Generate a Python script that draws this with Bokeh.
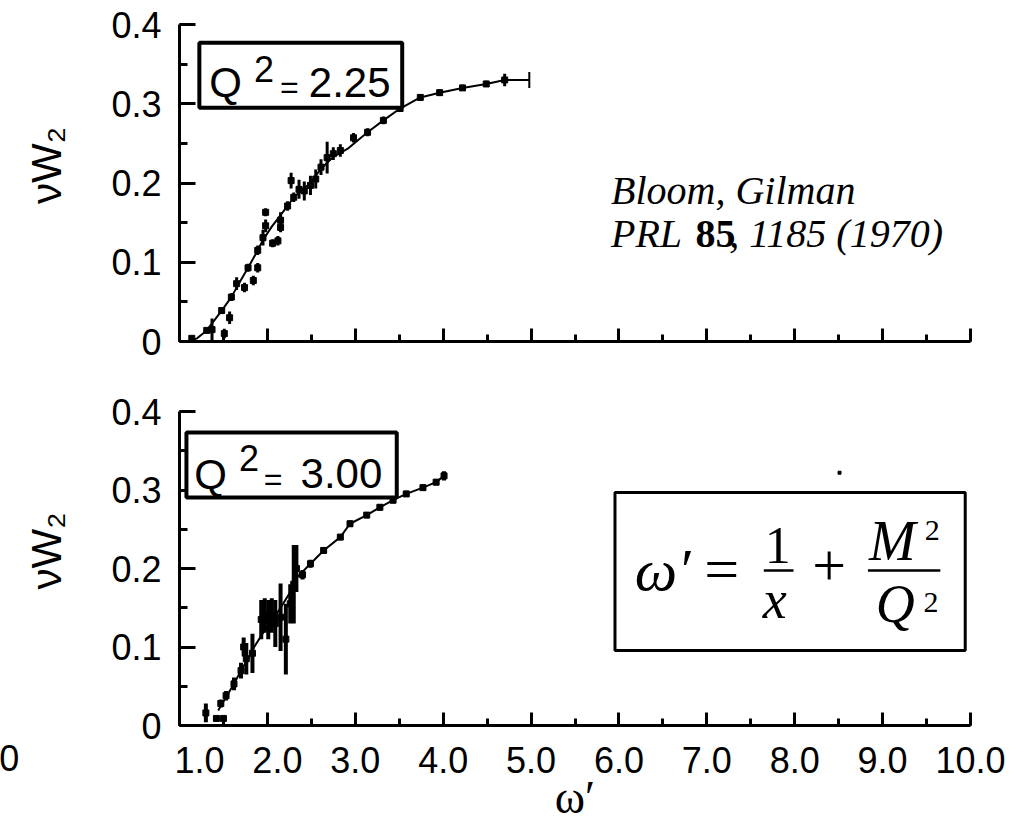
from bokeh.plotting import figure
from bokeh.layouts import column
from bokeh.models import (Range1d, SingleIntervalTicker, NumeralTickFormatter,
                          Label, BoxAnnotation, ColumnDataSource, CustomLabelingPolicy)
from bokeh.embed import file_html
from bokeh.resources import INLINE

# ---------------- data ----------------
# Q^2 = 2.25 : main data track (omega', nuW2, half error)
top_x = [1.14, 1.31, 1.37, 1.48, 1.59, 1.65, 1.78, 1.89, 1.95, 1.98, 1.98, 2.15, 2.23,
         2.27, 2.30, 2.36, 2.42, 2.49, 2.55, 2.61, 2.68, 2.75, 2.83, 2.98, 3.14, 3.32,
         3.51, 3.74, 3.96, 4.22, 4.49, 4.70]
top_y = [0.004, 0.014, 0.015, 0.039, 0.056, 0.073, 0.093, 0.115, 0.131, 0.146, 0.163,
         0.153, 0.171, 0.203, 0.182, 0.192, 0.190, 0.197, 0.205, 0.220, 0.232, 0.237,
         0.241, 0.257, 0.264, 0.279, 0.294, 0.308, 0.314, 0.320, 0.325, 0.330]
top_err = [0.002, 0.003, 0.014, 0.004, 0.005, 0.008, 0.005, 0.006, 0.010, 0.008, 0.005,
           0.010, 0.006, 0.010, 0.006, 0.012, 0.012, 0.012, 0.012, 0.010, 0.020, 0.008,
           0.008, 0.006, 0.005, 0.005, 0.004, 0.004, 0.004, 0.004, 0.004, 0.008]
# Q^2 = 2.25 : second (lower) data track
top_low_x = [1.51, 1.57, 1.74, 1.84, 1.89, 2.06, 2.12, 2.15]
top_low_y = [0.010, 0.030, 0.068, 0.077, 0.093, 0.124, 0.127, 0.144]
top_low_err = [0.006, 0.008, 0.006, 0.006, 0.006, 0.005, 0.006, 0.006]
# Q^2 = 2.25 : curve
top_curve_x = [1.10, 1.20, 1.31, 1.48, 1.59, 1.65, 1.78, 1.89, 1.95, 2.05, 2.23, 2.30,
               2.49, 2.61, 2.75, 2.91, 3.14, 3.32, 3.51, 3.74, 3.96, 4.22, 4.49, 4.70]
top_curve_y = [0.000, 0.004, 0.014, 0.039, 0.056, 0.068, 0.093, 0.115, 0.128, 0.145,
               0.171, 0.182, 0.200, 0.218, 0.233, 0.243, 0.264, 0.279, 0.294, 0.308,
               0.314, 0.320, 0.325, 0.330]
# last point horizontal error bar
top_xbar_x = [4.70]
top_xbar_right = [4.98]
top_xbar_y = [0.330]

# Q^2 = 3.00 : data track
bot_x = [1.30, 1.42, 1.50, 1.47, 1.53, 1.62, 1.70, 1.73, 1.76, 1.83, 1.93, 1.97, 2.01,
         2.05, 2.09, 2.15, 2.21, 2.26, 2.30, 2.33, 2.40, 2.49, 2.64, 2.83, 2.94, 3.13,
         3.28, 3.43, 3.58, 3.77, 3.92, 4.01]
bot_y = [0.016, 0.009, 0.009, 0.028, 0.038, 0.053, 0.070, 0.100, 0.085, 0.092, 0.135,
         0.140, 0.135, 0.140, 0.130, 0.138, 0.110, 0.155, 0.180, 0.200, 0.192, 0.206,
         0.223, 0.240, 0.257, 0.268, 0.278, 0.287, 0.295, 0.303, 0.310, 0.318]
bot_err = [0.012, 0.003, 0.003, 0.005, 0.006, 0.008, 0.010, 0.012, 0.020, 0.025, 0.025,
           0.022, 0.025, 0.022, 0.030, 0.043, 0.045, 0.025, 0.050, 0.030, 0.006, 0.005,
           0.004, 0.004, 0.004, 0.004, 0.004, 0.004, 0.004, 0.004, 0.004, 0.006]
bot_curve_x = [1.44, 1.55, 1.62, 1.70, 1.78, 1.85, 1.95, 2.05, 2.15, 2.25, 2.34, 2.49,
               2.64, 2.83, 2.94, 3.13, 3.28, 3.43, 3.58, 3.77, 3.92, 4.01]
bot_curve_y = [0.019, 0.040, 0.053, 0.070, 0.085, 0.100, 0.118, 0.133, 0.150, 0.168,
               0.189, 0.206, 0.223, 0.240, 0.257, 0.268, 0.278, 0.287, 0.295, 0.303,
               0.310, 0.318]
bot_extra_x = [8.51]
bot_extra_y = [0.322]

x_ticks_interval = 1.0
y_ticks_interval = 0.1
x_label_overrides = {1: "\u00a0\u00a0\u00a0\u00a01.0", 2: "\u00a0\u00a02.0"}
y_axis_title = "\u00a0\u00a0\u00a0νW₂"

SANS = "Liberation Sans"
SERIF = "Liberation Serif"

TOP_PPU = 793.0   # screen px per data unit (y) top panel
BOT_PPU = 785.0   # bottom panel


def make_fig(height, top, bottom, right, xlabels):
    p = figure(width=1034, height=height, output_backend="svg", toolbar_location=None,
               x_range=Range1d(1, 10), y_range=Range1d(0, 0.4),
               min_border_left=178, min_border_right=right,
               min_border_top=top, min_border_bottom=bottom)
    p.outline_line_color = None
    p.grid.visible = False
    p.background_fill_color = "white"
    p.border_fill_color = "white"
    p.xaxis.ticker = SingleIntervalTicker(interval=x_ticks_interval, num_minor_ticks=2)
    p.yaxis.ticker = SingleIntervalTicker(interval=y_ticks_interval, num_minor_ticks=2)
    for ax in p.axis:
        ax.axis_line_width = 3
        ax.axis_line_color = "black"
        ax.major_tick_line_width = 3
        ax.minor_tick_line_width = 3
        ax.major_tick_line_color = "black"
        ax.minor_tick_line_color = "black"
        ax.major_tick_out = 0
        ax.minor_tick_out = 0
        ax.major_label_text_font = SANS
        ax.major_label_text_font_size = "36px"
        ax.major_label_text_color = "black"
        ax.major_label_standoff = 18
    p.xaxis.major_tick_in = 13
    p.xaxis.minor_tick_in = 7
    p.yaxis.major_tick_in = 16
    p.yaxis.minor_tick_in = 8
    p.yaxis.formatter = NumeralTickFormatter(format="0.0")
    p.yaxis.major_label_overrides = {0: "0"}
    p.xaxis.formatter = NumeralTickFormatter(format="0.0")
    p.yaxis.axis_label = y_axis_title
    p.yaxis.axis_label_text_font = SANS
    p.yaxis.axis_label_text_font_size = "42px"
    p.yaxis.axis_label_text_font_style = "normal"
    p.yaxis.axis_label_text_color = "black"
    p.yaxis.axis_label_standoff = 38
    if xlabels:
        p.xaxis.major_label_overrides = x_label_overrides
        p.xaxis.major_label_standoff = 14
    else:
        p.xaxis.major_label_policy = CustomLabelingPolicy(code="return new Set()")
        p.xaxis.major_label_text_font_size = "2px"
        p.xaxis.major_label_standoff = 0
    return p


def data_marks(p, xs, ys, errs, width=3, size=6):
    src = ColumnDataSource(dict(x=xs, y=ys,
                                lo=[a - b for a, b in zip(ys, errs)],
                                hi=[a + b for a, b in zip(ys, errs)]))
    p.segment(x0="x", y0="lo", x1="x", y1="hi", source=src,
              line_color="black", line_width=width)
    p.scatter("x", "y", source=src, marker="square", size=size,
              fill_color="black", line_color="black")


def lab(p, ppu, x, y, text, font=SANS, size=36, style="normal", align="left",
        place="center"):
    # y is the wanted baseline; compensate for the renderer's baseline offset
    yy = y + 0.34 * size / ppu
    p.add_layout(Label(x=x, y=yy, text=text, text_font=font,
                       text_font_size="%dpx" % size,
                       text_font_style=style, text_align=align,
                       text_baseline="alphabetic", text_color="black"), place)


# ---------------- top panel ----------------
p1 = make_fig(380, 24, 39, 64, False)
p1.line(top_curve_x, top_curve_y, line_color="black", line_width=2)
data_marks(p1, top_x, top_y, top_err)
data_marks(p1, top_low_x, top_low_y, top_low_err)
xb = ColumnDataSource(dict(x=top_xbar_x, x1=top_xbar_right, y=top_xbar_y,
                           ylo=[v - 0.010 for v in top_xbar_y],
                           yhi=[v + 0.010 for v in top_xbar_y]))
p1.segment(x0="x", y0="y", x1="x1", y1="y", source=xb, line_color="black", line_width=2)
p1.segment(x0="x1", y0="ylo", x1="x1", y1="yhi", source=xb, line_color="black", line_width=2)

p1.add_layout(BoxAnnotation(left=1.226, right=3.534, bottom=0.295, top=0.377,
                            fill_color="white", fill_alpha=1.0,
                            line_color="black", line_width=4, line_alpha=1.0))
lab(p1, TOP_PPU, 1.339, 0.309, "Q", size=42)
lab(p1, TOP_PPU, 1.848, 0.329, "2", size=36)
lab(p1, TOP_PPU, 2.143, 0.308, "=", size=32)
lab(p1, TOP_PPU, 2.471, 0.309, "2.25", size=42)

lab(p1, TOP_PPU, 5.909, 0.174, "Bloom, Gilman", font=SERIF, size=40, style="italic")
lab(p1, TOP_PPU, 5.909, 0.1185, "PRL", font=SERIF, size=40, style="italic")
lab(p1, TOP_PPU, 6.871, 0.1185, "85", font=SERIF, size=40, style="bold")
lab(p1, TOP_PPU, 7.256, 0.1185, ", 1185 (1970)", font=SERIF, size=40, style="italic")

# ---------------- bottom panel ----------------
p2 = make_fig(445, 31, 100, 59, True)
p2.xaxis.axis_label = "ω′"
p2.xaxis.axis_label_text_font = SERIF
p2.xaxis.axis_label_text_font_size = "46px"
p2.xaxis.axis_label_text_font_style = "normal"
p2.xaxis.axis_label_text_color = "black"
p2.xaxis.axis_label_standoff = -12

p2.line(bot_curve_x, bot_curve_y, line_color="black", line_width=2)
data_marks(p2, bot_x, bot_y, bot_err, width=4)
p2.scatter(bot_extra_x, bot_extra_y, marker="square", size=3, color="black")

p2.add_layout(BoxAnnotation(left=1.079, right=3.472, bottom=0.2904, top=0.3732,
                            fill_color="white", fill_alpha=1.0,
                            line_color="black", line_width=4, line_alpha=1.0))
lab(p2, BOT_PPU, 1.169, 0.3019, "Q", size=42)
lab(p2, BOT_PPU, 1.677, 0.3248, "2", size=36)
lab(p2, BOT_PPU, 1.959, 0.3006, "=", size=32)
lab(p2, BOT_PPU, 2.377, 0.3032, "3.00", size=42)

# formula box
p2.add_layout(BoxAnnotation(left=5.955, right=9.94, bottom=0.0955, top=0.2968,
                            fill_color="white", fill_alpha=1.0,
                            line_color="black", line_width=3, line_alpha=1.0))
lab(p2, BOT_PPU, 6.181, 0.172, "ω′", font=SERIF, size=60, style="italic")
lab(p2, BOT_PPU, 6.971, 0.172, "=", font=SERIF, size=62)
lab(p2, BOT_PPU, 7.806, 0.2064, "1", font=SERIF, size=52, align="center")
lab(p2, BOT_PPU, 7.772, 0.1363, "x", font=SERIF, size=54, style="italic", align="center")
lab(p2, BOT_PPU, 8.393, 0.1783, "+", font=SERIF, size=60, align="center")
lab(p2, BOT_PPU, 8.844, 0.2102, "M", font=SERIF, size=56, style="italic")
lab(p2, BOT_PPU, 9.480, 0.2357, "2", font=SERIF, size=30)
lab(p2, BOT_PPU, 8.923, 0.1312, "Q", font=SERIF, size=54, style="italic")
lab(p2, BOT_PPU, 9.465, 0.144, "2", font=SERIF, size=30)
p2.add_layout(BoxAnnotation(left=7.648, right=7.986, bottom=0.1959, top=0.1991,
                            fill_color="black", fill_alpha=1.0, line_color=None))
p2.add_layout(BoxAnnotation(left=8.833, right=9.657, bottom=0.1959, top=0.1991,
                            fill_color="black", fill_alpha=1.0, line_color=None))

# stray tick label at far left (placed in the side panel so it is not clipped)
lab(p2, BOT_PPU, -1.05, -0.0565, "0", size=36, place="left")

layout = column(p1, p2, spacing=0)
open("out.html", "w").write(file_html(layout, INLINE))
